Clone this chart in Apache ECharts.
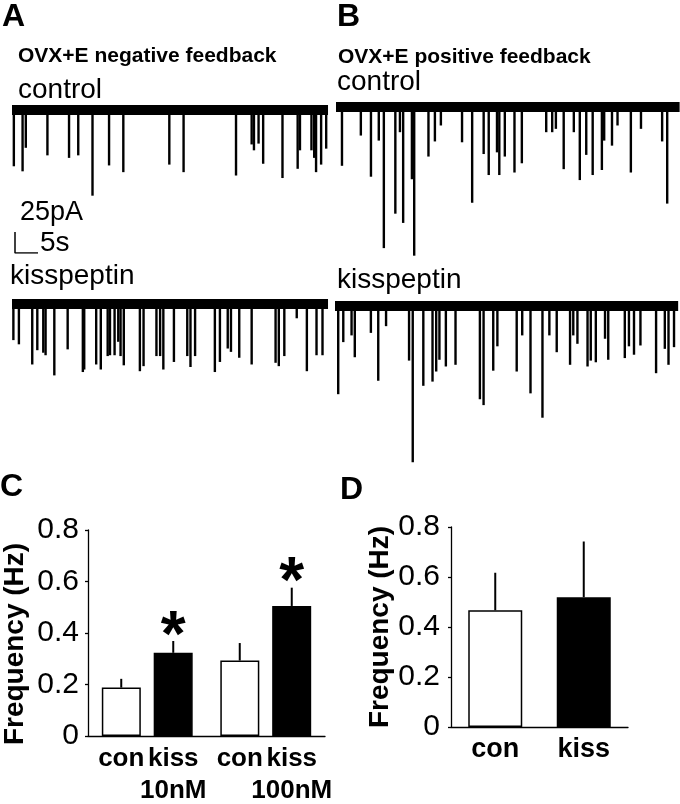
<!DOCTYPE html>
<html>
<head>
<meta charset="utf-8">
<script src="https://cdn.jsdelivr.net/npm/echarts@6/dist/echarts.min.js"></script>
<style>
  html, body { margin: 0; padding: 0; background: #fff; }
  #chart { width: 680px; height: 804px; }
</style>
</head>
<body>
<div id="chart"></div>
<script>
// ---- recordings: event time (s) and event amplitude (pA, inward = down) ----
const aCtrlLength = 68.7;
const aCtrlTimes = [0.4, 2.3, 3.0, 7.7, 12.4, 14.4, 17.5, 21.1, 24.2, 34.2, 37.3, 48.7, 52.1, 52.6, 53.6, 54.6, 58.8, 62.1, 62.6, 65.1, 65.7, 66.1, 67.2, 68.3];
const aCtrlAmps = [67, 73, 45, 54, 57, 54, 102, 66, 74, 65, 74, 78, 41, 48, 40, 64, 81, 70, 48, 48, 57, 74, 65, 46];

const aKissLength = 68.7;
const aKissTimes = [0.3, 1.5, 4.4, 5.5, 6.8, 7.3, 9.2, 12.1, 15.4, 15.7, 18.3, 19.3, 20.8, 21.3, 22.3, 23.1, 23.6, 24.3, 27.8, 28.6, 31.4, 32.2, 32.9, 35.2, 38.1, 38.8, 39.8, 44.1, 45.2, 46.9, 47.6, 49.4, 52.1, 57.3, 58.0, 59.2, 61.9, 64.1, 66.2, 67.5];
const aKissAmps = [43, 48, 72, 55, 58, 61, 85, 54, 81, 78, 72, 78, 62, 61, 61, 45, 62, 73, 80, 74, 62, 62, 78, 69, 62, 75, 62, 81, 69, 53, 57, 64, 72, 70, 74, 62, 17, 80, 61, 61];

const bCtrlLength = 74.7;
const bCtrlTimes = [1.3, 5.4, 7.6, 9.3, 10.4, 12.9, 13.9, 14.6, 16.5, 17.0, 20.1, 21.5, 22.8, 27.4, 29.6, 32.1, 33.2, 35.0, 35.5, 36.7, 38.8, 40.4, 45.7, 47.0, 47.8, 49.5, 51.7, 53.0, 54.4, 55.8, 57.8, 58.3, 60.0, 61.2, 64.1, 66.3, 70.9, 72.0];
const bCtrlAmps = [70, 34, 83, 40, 168, 127, 30, 138, 86, 177, 59, 41, 22, 42, 114, 56, 81, 54, 81, 59, 78, 67, 30, 30, 26, 74, 30, 87, 57, 81, 75, 40, 46, 22, 78, 26, 41, 115];

const bKissLength = 74.6;
const bKissTimes = [0.7, 1.8, 3.6, 4.3, 7.8, 9.4, 11.1, 16.1, 16.9, 19.2, 21.2, 22.0, 22.7, 24.1, 26.2, 31.5, 32.3, 34.4, 35.3, 39.5, 40.7, 42.5, 45.1, 46.6, 48.2, 51.1, 51.8, 52.7, 54.9, 55.6, 56.7, 58.7, 59.4, 63.0, 63.9, 65.0, 66.4, 69.8, 71.7, 72.5, 73.7];
const bKissAmps = [105, 43, 35, 61, 32, 89, 24, 65, 186, 95, 90, 78, 64, 72, 70, 111, 118, 77, 48, 78, 35, 104, 133, 35, 55, 70, 35, 45, 72, 65, 67, 39, 64, 62, 48, 58, 47, 80, 51, 70, 49];

// scale bar
const scaleBarPA = 25;
const scaleBarS = 5;

// ---- frequency bars ----
const cDoses = ['10nM', '100nM'];
const cConMean = [0.188, 0.293];
const cConSem = [0.034, 0.068];
const cKissMean = [0.323, 0.505];
const cKissSem = [0.046, 0.071];
const cKissSig = [true, true];

const dGroups = ['con', 'kiss'];
const dMean = [0.467, 0.519];
const dSem = [0.150, 0.223];

const yTicks = [0, 0.2, 0.4, 0.6, 0.8];

// ---- layout ----
const FONT = '"Liberation Sans", Arial, Helvetica, sans-serif';
const PX_PER_S = 4.6;
const PX_PER_PA = 0.84;
const Y_LOW = -200;
const Y_HIGH = 12;
const C_BAR_W = 39;
const C_OFFSET = 26;   // half the distance between the two bars of a group
const D_BAR_W = 54;

const traces = [
  { times: aCtrlTimes, amps: aCtrlAmps, length: aCtrlLength, left: 12, base: 110 },
  { times: aKissTimes, amps: aKissAmps, length: aKissLength, left: 12, base: 304 },
  { times: bCtrlTimes, amps: bCtrlAmps, length: bCtrlLength, left: 336, base: 107 },
  { times: bKissTimes, amps: bKissAmps, length: bKissLength, left: 335, base: 306 }
];

const grid = [];
const xAxis = [];
const yAxis = [];
const series = [];

traces.forEach((tr, i) => {
  grid.push({
    left: tr.left,
    top: tr.base - Y_HIGH * PX_PER_PA,
    width: tr.length * PX_PER_S,
    height: (Y_HIGH - Y_LOW) * PX_PER_PA
  });
  xAxis.push({ gridIndex: i, type: 'value', min: 0, max: tr.length, show: false });
  yAxis.push({ gridIndex: i, type: 'value', min: Y_LOW, max: Y_HIGH, show: false });
  // noisy holding current, drawn as a thick band
  series.push({
    type: 'line', xAxisIndex: i, yAxisIndex: i,
    data: [[0, 0], [tr.length, 0]],
    symbol: 'none', silent: true,
    lineStyle: { color: '#000', width: 10 }
  });
  // individual events
  series.push({
    type: 'bar', xAxisIndex: i, yAxisIndex: i,
    data: tr.times.map((t, k) => [t, -tr.amps[k]]),
    barWidth: 2.4,
    itemStyle: { color: '#000' }
  });
});

// scale bar grid (same px per unit as the traces)
grid.push({ left: 15, top: 232, width: scaleBarS * PX_PER_S, height: scaleBarPA * PX_PER_PA });
xAxis.push({ gridIndex: 4, type: 'value', min: 0, max: scaleBarS, show: false });
yAxis.push({ gridIndex: 4, type: 'value', min: 0, max: scaleBarPA, show: false });
series.push({
  type: 'line', xAxisIndex: 4, yAxisIndex: 4,
  data: [[0, scaleBarPA], [0, 0], [scaleBarS, 0]],
  symbol: 'none', lineStyle: { color: '#000', width: 1.5 }
});

// shared look of the two frequency plots
function freqYAxis(gridIndex, gap, pad, margin) {
  return {
    gridIndex, type: 'value', min: 0, max: 0.8, interval: 0.2,
    name: 'Frequency (Hz)', nameLocation: 'middle', nameRotate: 90, nameGap: gap,
    nameTextStyle: { fontFamily: FONT, fontSize: 28, fontWeight: 'bold', color: '#000', padding: pad },
    axisLine: { show: true, lineStyle: { color: '#000', width: 1.3 } },
    axisTick: { show: true, length: 3, lineStyle: { color: '#000', width: 1.3 } },
    axisLabel: {
      fontFamily: FONT, fontSize: 30, color: '#000', margin: margin,
      formatter: v => (yTicks.indexOf(v) === 0 ? '0' : v.toFixed(1))
    },
    splitLine: { show: false }
  };
}

function errorSeries(gridIndex, means, sems, offset, sig) {
  return {
    type: 'custom', xAxisIndex: gridIndex, yAxisIndex: gridIndex,
    data: means.map((m, i) => [i, m, sems[i]]),
    encode: { x: 0, y: 1 },
    z: 3,
    renderItem(params, api) {
      const base = api.coord([api.value(0), api.value(1)]);
      const top = api.coord([api.value(0), api.value(1) + api.value(2)]);
      const x = base[0] + offset;
      const children = [{
        type: 'line',
        shape: { x1: x, y1: base[1], x2: x, y2: top[1] },
        style: { stroke: '#000', lineWidth: 2 }
      }];
      if (sig && sig[params.dataIndex]) {
        children.push({
          type: 'text', x: x, y: top[1] - 3,
          style: {
            text: '*', fill: '#000', fontFamily: FONT, fontSize: 64, fontWeight: 'bold',
            align: 'center', verticalAlign: 'middle'
          }
        });
      }
      return { type: 'group', children };
    }
  };
}

// panel C
grid.push({ left: 86, top: 530, width: 239, height: 208 });
const labelTok = { width: 52, align: 'center', fontFamily: FONT, fontSize: 26, fontWeight: 'bold', color: '#000', lineHeight: 32 };
xAxis.push({
  gridIndex: 5, type: 'category', data: cDoses,
  axisLine: { show: true, lineStyle: { color: '#000', width: 1.3 } },
  axisTick: { show: false },
  axisLabel: {
    interval: 0, margin: 7,
    formatter: v => '{a|con}{b|kiss}\n{p|}{b|' + v + '}',
    rich: { a: labelTok, b: labelTok, p: { width: 52, lineHeight: 32 } }
  }
});
yAxis.push(freqYAxis(5, 59, [0, 22, 0, 0], 9));
series.push({
  type: 'bar', xAxisIndex: 5, yAxisIndex: 5, data: cConMean,
  barWidth: C_BAR_W, barGap: '33%',
  itemStyle: { color: '#fff', borderColor: '#000', borderWidth: 1.5 }
});
series.push({
  type: 'bar', xAxisIndex: 5, yAxisIndex: 5, data: cKissMean,
  barWidth: C_BAR_W, barGap: '33%',
  itemStyle: { color: '#000', borderColor: '#000', borderWidth: 1.5 }
});
series.push(errorSeries(5, cConMean, cConSem, -C_OFFSET, null));
series.push(errorSeries(5, cKissMean, cKissSem, C_OFFSET, cKissSig));

// panel D
grid.push({ left: 451, top: 527, width: 177, height: 200 });
xAxis.push({
  gridIndex: 6, type: 'category', data: dGroups,
  axisLine: { show: true, lineStyle: { color: '#000', width: 1.3 } },
  axisTick: { show: false },
  axisLabel: { interval: 0, margin: 9, fontFamily: FONT, fontSize: 27, fontWeight: 'bold', color: '#000' }
});
yAxis.push(freqYAxis(6, 54, 0, 11));
series.push({
  type: 'bar', xAxisIndex: 6, yAxisIndex: 6, data: dMean,
  barWidth: D_BAR_W,
  itemStyle: {
    color: p => (p.dataIndex === 0 ? '#fff' : '#000'),
    borderColor: '#000', borderWidth: 1.5
  }
});
series.push(errorSeries(6, dMean, dSem, 0, null));

// text labels of the figure
function txt(text, x, y, size, bold) {
  return {
    type: 'text', x, y,
    style: {
      text, fill: '#000', fontFamily: FONT, fontSize: size,
      fontWeight: bold ? 'bold' : 'normal', align: 'left', verticalAlign: 'middle'
    }
  };
}
const graphic = [
  txt('A', 2, 17, 32, true),
  txt('B', 337, 17, 32, true),
  txt('C', 0, 487, 32, true),
  txt('D', 340, 490, 32, true),
  txt('OVX+E negative feedback', 18, 56, 21, true),
  txt('OVX+E positive feedback', 338, 57, 21, true),
  txt('control', 18, 90, 28, false),
  txt('control', 337, 82, 28, false),
  txt('25pA', 20, 213, 27, false),
  txt('5s', 40, 243, 28, false),
  txt('kisspeptin', 10, 276, 28, false),
  txt('kisspeptin', 337, 280, 28, false)
];

const chart = echarts.init(document.getElementById('chart'), null, { renderer: 'canvas' });
chart.setOption({
  animation: false,
  backgroundColor: '#fff',
  grid, xAxis, yAxis, series, graphic
});
</script>
</body>
</html>
